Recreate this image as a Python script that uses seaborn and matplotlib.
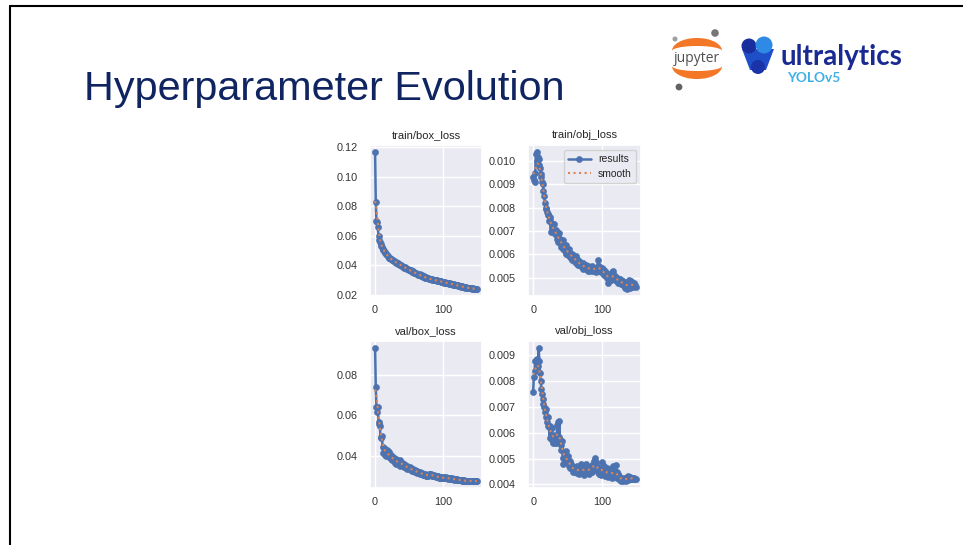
import numpy as np
import pandas as pd
import matplotlib
matplotlib.use("Agg")
import matplotlib.pyplot as plt
import seaborn as sns
from matplotlib.patches import Circle, Polygon
from matplotlib.lines import Line2D
from matplotlib.ticker import MultipleLocator

# ---------------- data ----------------
epochs = list(range(150))

# train/box_loss, units of 1e-4
train_box_x1e4 = [
    1170, 830, 700, 690, 660, 600, 572, 558, 545, 532,
    522, 512, 505, 496, 490, 484, 478, 470, 466, 460,
    452, 450, 446, 440, 442, 436, 432, 430, 426, 424,
    420, 418, 414, 416, 410, 406, 404, 400, 402, 396,
    392, 390, 388, 384, 386, 380, 376, 374, 372, 370,
    368, 364, 366, 360, 356, 358, 352, 350, 348, 346,
    345, 340, 343, 336, 334, 337, 330, 328, 331, 325,
    322, 325, 318, 316, 319, 312, 314, 310, 312, 308,
    306, 309, 304, 302, 305, 300, 302, 298, 300, 296,
    295, 298, 292, 294, 290, 292, 288, 290, 286, 288,
    285, 282, 286, 280, 282, 278, 280, 276, 274, 277,
    272, 275, 270, 272, 268, 270, 266, 268, 264, 262,
    265, 260, 262, 258, 260, 256, 254, 257, 252, 254,
    250, 252, 248, 250, 246, 248, 244, 246, 243, 245,
    242, 244, 240, 242, 239, 241, 238, 240, 237, 238,
]

# train/obj_loss, units of 1e-5
train_obj_x1e5 = [
    930, 920, 912, 950, 1030, 1040, 1000, 1020, 985, 1010,
    970, 945, 930, 912, 900, 870, 850, 820, 800, 795,
    780, 770, 775, 742, 760, 748, 695, 725, 712, 730,
    728, 685, 695, 705, 665, 690, 652, 690, 670, 650,
    660, 632, 645, 662, 622, 632, 612, 640, 602, 620,
    612, 598, 622, 590, 605, 585, 600, 575, 598, 580,
    585, 568, 592, 560, 578, 555, 572, 552, 568, 548,
    560, 545, 562, 538, 555, 540, 552, 535, 548, 530,
    548, 532, 545, 528, 542, 535, 548, 530, 540, 528,
    538, 525, 545, 530, 575, 540, 548, 528, 542, 522,
    540, 520, 535, 512, 528, 505, 520, 500, 512, 478,
    505, 495, 515, 490, 522, 498, 530, 492, 510, 488,
    502, 485, 498, 478, 495, 482, 492, 470, 488, 475,
    485, 468, 480, 455, 478, 462, 450, 475, 460, 490,
    468, 455, 485, 462, 478, 458, 475, 462, 468, 460,
]

# val/box_loss, units of 1e-4
val_box_x1e4 = [
    935, 738, 640, 618, 642, 568, 556, 548, 485, 490,
    495, 440, 412, 438, 405, 430, 398, 425, 402, 420,
    395, 415, 398, 385, 405, 380, 392, 372, 388, 365,
    385, 358, 378, 362, 375, 355, 380, 350, 370, 356,
    365, 348, 360, 345, 352, 340, 348, 335, 345, 338,
    332, 342, 330, 338, 325, 335, 322, 330, 320, 326,
    318, 324, 315, 320, 312, 318, 310, 314, 308, 312,
    305, 310, 302, 308, 300, 305, 298, 303, 300, 306,
    302, 308, 310, 304, 300, 298, 302, 296, 300, 294,
    298, 292, 296, 290, 295, 288, 293, 290, 286, 292,
    288, 294, 290, 286, 292, 288, 285, 290, 287, 284,
    288, 285, 283, 287, 282, 285, 281, 284, 280, 283,
    282, 279, 281, 278, 280, 277, 279, 276, 278, 275,
    277, 274, 276, 273, 275, 274, 276, 273, 275, 274,
    276, 273, 274, 272, 275, 273, 274, 272, 273, 272,
]

# val/obj_loss, units of 1e-5
val_obj_x1e5 = [
    760, 815, 840, 880, 882, 845, 888, 860, 930, 880,
    832, 800, 768, 750, 732, 712, 702, 682, 692, 662,
    640, 660, 628, 622, 580, 625, 592, 620, 572, 560,
    592, 570, 562, 585, 562, 632, 640, 585, 645, 572,
    552, 535, 570, 502, 478, 522, 492, 500, 528, 492,
    512, 485, 470, 492, 462, 478, 458, 472, 450, 468,
    448, 462, 455, 445, 470, 452, 442, 465, 448, 478,
    455, 445, 462, 448, 438, 470, 480, 452, 445, 468,
    455, 442, 465, 450, 470, 458, 448, 478, 462, 490,
    502, 488, 470, 458, 448, 465, 442, 455, 438, 450,
    485, 462, 445, 470, 432, 455, 440, 462, 428, 450,
    438, 460, 432, 448, 425, 442, 470, 438, 428, 452,
    475, 448, 425, 440, 420, 432, 418, 426, 415, 422,
    420, 415, 425, 418, 412, 420, 428, 418, 432, 425,
    422, 428, 420, 425, 422, 426, 420, 424, 422, 421,
]

panel_titles = ["train/box_loss", "train/obj_loss", "val/box_loss", "val/obj_loss"]
series_labels = ["results", "smooth"]
slide_title = "Hyperparameter Evolution"


def gaussian_smooth(y, sigma=3.0, truncate=4.0):
    r = int(truncate * sigma + 0.5)
    k = np.exp(-0.5 * (np.arange(-r, r + 1) / sigma) ** 2)
    k /= k.sum()
    yp = np.pad(np.asarray(y, dtype=float), r, mode="symmetric")
    return np.convolve(yp, k, mode="valid")


# ---------------- style ----------------
sns.set_theme(style="darkgrid")
plt.rcParams["font.family"] = ["Liberation Sans", "DejaVu Sans"]

W, H = 963, 545
fig = plt.figure(figsize=(W / 100, H / 100), dpi=100)
fig.patch.set_facecolor("white")

# overlay in pixel coordinates (y downward) for slide decorations
ov = fig.add_axes([0, 0, 1, 1], zorder=-5)
ov.set_xlim(0, W)
ov.set_ylim(H, 0)
ov.axis("off")
ov.patch.set_alpha(0)

# slide border
ov.add_line(Line2D([10, W], [6, 6], color="black", lw=1.5))
ov.add_line(Line2D([10, 10], [6, H], color="black", lw=1.5))

# slide title
ov.text(84, 89, slide_title, fontsize=29.8, color="#0f2460",
        ha="left", va="center", family=["Liberation Sans", "DejaVu Sans"])


# jupyter logo
def crescent(cx, cy, a, b_out, b_in, up=True, n=60):
    t = np.linspace(0, np.pi, n)
    s = -1 if up else 1
    outer = np.column_stack([cx + a * np.cos(t), cy + s * b_out * np.sin(t)])
    inner = np.column_stack([cx + a * np.cos(t[::-1]), cy + s * b_in * np.sin(t[::-1])])
    return Polygon(np.vstack([outer, inner]), closed=True, fc="#f37726", ec="none")


ov.add_patch(crescent(697, 51, 25, 13, 5, up=True))
ov.add_patch(crescent(697, 66, 25, 13, 5, up=False))
ov.add_patch(Circle((715, 33), 3.8, fc="#767677", ec="none"))
ov.add_patch(Circle((675, 39), 2.5, fc="#9e9e9e", ec="none"))
ov.add_patch(Circle((679, 87), 3.4, fc="#616262", ec="none"))
ov.text(697, 58.5, "jupyter", fontsize=10, color="#4e4e4e", ha="center", va="center",
        family=["Open Sans", "DejaVu Sans"])

# ultralytics logo
ov.add_patch(Polygon([[742, 49], [774, 49], [766, 70], [750, 70]], closed=True,
                     fc="#1f4fc8", ec="none"))
ov.add_patch(Circle((749, 46), 7.5, fc="#1a2f9e", ec="none"))
ov.add_patch(Circle((764, 45), 8.5, fc="#2f8ae6", ec="none"))
ov.add_patch(Circle((758, 67), 7.0, fc="#1a33a8", ec="none"))
ov.text(781, 57, "ultralytics", fontsize=20, color="#1a2a93", ha="left", va="center",
        fontweight="bold", family=["Lato", "DejaVu Sans"])
ov.text(787, 77.5, "YOLOv5", fontsize=9.8, color="#3fb0e6", ha="left", va="center",
        fontweight="bold", family=["Lato", "DejaVu Sans"])

# ---------------- panels ----------------
blue = sns.color_palette("deep")[0]
orange = sns.color_palette("deep")[1]

series = [
    np.array(train_box_x1e4) * 1e-4,
    np.array(train_obj_x1e5) * 1e-5,
    np.array(val_box_x1e4) * 1e-4,
    np.array(val_obj_x1e5) * 1e-5,
]
ysteps = [0.02, 0.001, 0.02, 0.001]


def px_rect(x0, y0, x1, y1):
    return [x0 / W, 1 - y1 / H, (x1 - x0) / W, (y1 - y0) / H]


rects = [
    px_rect(370, 145, 482, 296),
    px_rect(528, 145, 641, 296),
    px_rect(370, 341, 482, 488),
    px_rect(528, 341, 641, 488),
]

for i, (title, vals, rect, step) in enumerate(zip(panel_titles, series, rects, ysteps)):
    ax = fig.add_axes(rect)
    df = pd.DataFrame({"epoch": epochs, "value": vals, "smooth": gaussian_smooth(vals)})
    sns.lineplot(data=df, x="epoch", y="value", ax=ax, color=blue, marker="o",
                 markersize=4.4, markeredgecolor=blue, markeredgewidth=0.4,
                 linewidth=1.8, label=series_labels[0], errorbar=None)
    sns.lineplot(data=df, x="epoch", y="smooth", ax=ax, color=orange, linestyle=":",
                 linewidth=1.5, label=series_labels[1], errorbar=None)
    ax.set_title(title, fontsize=8, color="#262626", pad=5)
    ax.set_xlabel("")
    ax.set_ylabel("")
    ax.xaxis.set_major_locator(MultipleLocator(100))
    ax.yaxis.set_major_locator(MultipleLocator(step))
    ax.tick_params(labelsize=7.8, colors="#333333")
    ax.tick_params(axis="x", pad=0.8)
    ax.tick_params(axis="y", pad=3)
    leg = ax.get_legend()
    if leg is not None:
        leg.remove()
    if i == 1:
        ax.legend(loc="upper right", fontsize=7.5, handlelength=2.2, borderpad=0.4,
                  labelspacing=0.4, handletextpad=0.7)

fig.savefig("out.png", dpi=100, facecolor="white")
